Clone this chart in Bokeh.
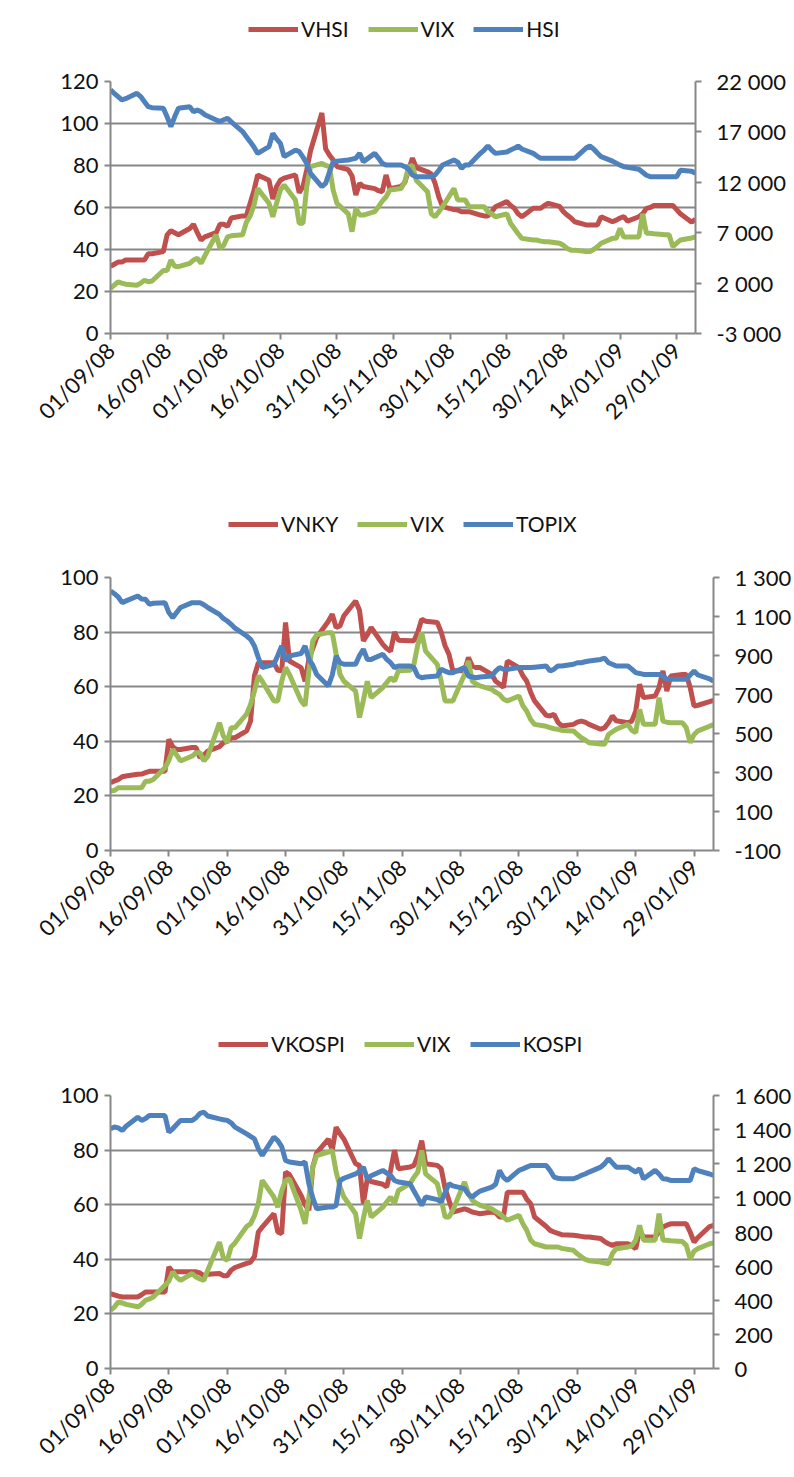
import pandas as pd
from bokeh.plotting import figure
from bokeh.models import Range1d, LinearAxis, FixedTicker, Legend, LegendItem, DatetimeTickFormatter
from bokeh.layouts import column
from bokeh.embed import file_html
from bokeh.resources import INLINE
import math

# ---------------- data ----------------
# trading days (weekdays) shown on the charts
dates = pd.bdate_range("2008-09-01", "2009-02-03")

tick_dates = ["2008-09-01", "2008-09-16", "2008-10-01", "2008-10-16", "2008-10-31",
              "2008-11-15", "2008-11-30", "2008-12-15", "2008-12-30", "2009-01-14", "2009-01-29"]
tick_labels = ["01/09/08", "16/09/08", "01/10/08", "16/10/08", "31/10/08",
               "15/11/08", "30/11/08", "15/12/08", "30/12/08", "14/01/09", "29/01/09"]

# Chart 1: VHSI, VIX (left axis), HSI (right axis)
vhsi = [32, 33, 34, 34, 35,
        35, 35, 35, 38, 38,
        39, 47, 49, 48, 47,
        50, 52, 48, 44.5, 46,
        48, 52, 52, 51, 55,
        56, 56, 62, 68, 75.5,
        73, 64, 70, 73, 74,
        75.5, 67, 70, 78, 87,
        105, 88, 85, 82.6, 79.5,
        78, 75, 66, 71.5, 70,
        69, 68, 67.5, 75.5, 69,
        70, 72, 78, 83.5, 79,
        77, 76, 71.5, 65, 60.4,
        59, 58.8, 58, 58, 58,
        56.4, 56, 56, 58, 60.4,
        62.8, 61, 59.6, 57, 55.6,
        59.6, 59.6, 59.6, 61, 62,
        60.5, 58, 56.4, 55, 53.2,
        51.7, 51.7, 51.7, 51.7, 55.6,
        53.2, 54, 55, 55.6, 53.5,
        55.6, 57, 59.6, 60, 61,
        61, 61, 61, 59, 57,
        53, 54.5]
vix_1 = [21.5, 23, 24.6, 24, 23.5,
         23, 24, 25.4, 24.6, 25,
         30, 30, 35, 32, 31.8,
         33.4, 35, 35.8, 33.4, 37,
         47, 40.5, 42, 46, 46.5,
         47, 53, 56, 61, 69,
         62, 55.6, 62, 68.3, 70.7,
         63.6, 52.5, 52.5, 70, 79.5,
         81, 80, 79.5, 68.3, 62,
         57, 48.5, 59.6, 56.4, 56.4,
         58, 60.4, 63, 65, 68.3,
         69, 72.3, 79.5, 80, 73,
         67.5, 57, 55.6, 58, 60.4,
         69, 63.6, 63.6, 63.6, 60.4,
         60.4, 60.4, 58, 57, 55.6,
         57, 52.5, 50, 47.5, 45.3,
         44.5, 44.5, 44, 43.7, 43.7,
         43, 42, 40.5, 39.7, 39.7,
         39, 39, 40, 41.3, 43,
         45.3, 45.3, 50, 46, 46,
         46, 57, 47.7, 47.7, 47.5,
         47, 47, 41.3, 43, 44.5,
         45.5, 46]
hsi = [21163, 20830, 20500, 20170, 20300,
       20830, 20500, 20000, 19500, 19400,
       19340, 18500, 17520, 18500, 19340,
       19500, 19000, 19180, 19000, 18700,
       18180, 18020, 18200, 18350, 18000,
       17030, 16530, 16030, 15500, 14870,
       15540, 16860, 16300, 15870, 14540,
       15200, 15040, 14500, 13880, 12890,
       11560, 11890, 13000, 14050, 14100,
       14210, 14300, 14380, 14870, 14050,
       14870, 14400, 13900, 13720, 13720,
       13720, 13550, 13300, 12720, 12560,
       12560, 12560, 12720, 13200, 13720,
       14210, 14000, 13380, 13720, 13720,
       14870, 15200, 15600, 15200, 14870,
       15000, 15200, 15370, 15600, 15300,
       14870, 14600, 14380, 14380, 14380,
       14380, 14380, 14380, 14380, 14380,
       15400, 15600, 15300, 14900, 14540,
       14100, 13900, 13700, 13550, 13500,
       13300, 13000, 12700, 12560, 12560,
       12560, 12560, 12560, 12560, 13200,
       13100, 12890]

# Chart 2: VNKY, VIX (left axis), TOPIX (right axis)
vnky = [24.8, 25.5, 26, 27, 27.3,
        27.9, 28, 28.5, 29, 29,
        29, 40.7, 38, 37, 37,
        37.7, 37.7, 34, 35, 36.4,
        38, 39.5, 40, 41.3, 41.3,
        43.8, 47.4, 64, 68.8, 68.8,
        68.8, 66, 65.8, 83.5, 69.4,
        67, 62, 70, 74, 78,
        84, 86.6, 81.7, 82.3, 86,
        91.4, 88, 76.8, 79, 81.7,
        75.5, 74, 73, 80, 77,
        76.8, 76.8, 80, 84.7, 84,
        83.5, 80, 75, 71.9, 65.8,
        65.8, 70.7, 67.6, 67, 67,
        64.5, 62, 61, 59.7, 69.4,
        67, 64, 62, 58, 54.8,
        49.5, 49.3, 49.9, 47, 45.6,
        46.2, 47, 47.4, 47, 46.2,
        44.4, 45, 46.8, 49.3, 47.5,
        46.8, 47.4, 51, 60.9, 56,
        56.6, 59.7, 65.8, 58.4, 63.9,
        64.5, 64.5, 59.7, 52.9, 53.2,
        54.5, 55]
vix_2 = [21.8, 22, 23, 23, 23,
         23, 23, 25.4, 25.4, 26,
         30.3, 33, 37, 35, 32.8,
         34.6, 35.8, 35.8, 32.8, 34.5,
         46.8, 42, 39.5, 45, 45,
         50, 53.5, 58.4, 64, 62,
         54.8, 54.8, 62, 67, 64.5,
         54.8, 53, 65.8, 76.8, 79,
         79.8, 79.8, 71.9, 64.5, 62,
         58.4, 48.7, 55, 62, 56,
         59.7, 61.5, 63.3, 62, 65.8,
         66, 68.2, 75.5, 79.8, 73,
         68.2, 62, 54.8, 54.8, 54.8,
         64.5, 69.4, 62, 61, 60.3,
         59, 58, 57.2, 55.5, 54.8,
         56.6, 53, 51, 48, 46.2,
         45.5, 45, 44.6, 44.4, 44,
         43.8, 42.5, 41.3, 40.5, 39.5,
         39, 38.9, 42.5, 43.5, 44.4,
         46.2, 44, 43.2, 51.7, 46.2,
         46.2, 56, 47.4, 47, 46.8,
         46.8, 45, 39.5, 42.5, 43.8,
         45.5, 46.2]
topix = [1231, 1217, 1200, 1171, 1180,
         1205, 1190, 1188, 1163, 1168,
         1171, 1120, 1094, 1120, 1146,
         1171, 1171, 1171, 1160, 1146,
         1111, 1090, 1077, 1060, 1040,
         1000, 983, 949, 889, 838,
         855, 900, 949, 872, 898,
         910, 949, 880, 850, 803,
         744, 800, 898, 863, 855,
         855, 900, 932, 880, 880,
         906, 880, 863, 838, 846,
         846, 838, 795, 786, 790,
         795, 829, 820, 812, 812,
         838, 795, 790, 786, 790,
         795, 820, 838, 829, 829,
         838, 838, 838, 838, 840,
         846, 820, 830, 846, 846,
         855, 863, 863, 868, 872,
         880, 886, 863, 855, 846,
         846, 830, 812, 808, 803,
         803, 803, 795, 778, 778,
         778, 778, 800, 820, 800,
         780, 769]

# Chart 3: VKOSPI, VIX (left axis), KOSPI (right axis)
vkospi = [27.4, 27, 26.5, 26.2, 26.2,
          26.2, 27, 28, 28, 28,
          28, 37.2, 35.4, 35.4, 35.4,
          35.4, 35.4, 35, 34, 34.5,
          34.8, 34, 34, 36, 37,
          38.5, 39, 41, 50, 51.8,
          56.7, 50, 49.4, 72, 71,
          63.4, 60, 58, 73.8, 79,
          84, 80, 88.4, 86, 84,
          75, 74.4, 60.4, 69.5, 68.5,
          67.5, 66.5, 72.6, 80, 73.2,
          73.8, 74.4, 78, 83.5, 75,
          74.4, 73.2, 66, 61.6, 57.3,
          58.5, 58, 57.3, 57, 56.7,
          57.3, 57, 55.5, 55.5, 64.6,
          64.6, 64.6, 62, 60.4, 55.5,
          52, 50.6, 50, 49.5, 49,
          48.8, 48.6, 48.4, 48.2, 48.2,
          47.6, 46.5, 45.7, 45.1, 45.7,
          45.7, 45, 43.9, 50.6, 48.2,
          48.2, 50, 51.8, 52.5, 53,
          53, 53, 50, 46.3, 48,
          52, 52.4]
vix_3 = [21.3, 22.5, 24.4, 24, 23.5,
         22.6, 23.5, 25, 25.5, 26.2,
         30.5, 32, 35.4, 33.5, 32.3,
         34.8, 33.5, 32.8, 32.3, 36,
         46.3, 40.5, 39.6, 44.5, 46,
         52, 53, 56, 60.4, 68.9,
         62.8, 59.1, 65, 68.9, 69.5,
         57.9, 53, 62.8, 73.8, 78,
         79.3, 79.9, 72, 66.5, 62.8,
         56.7, 47.6, 55, 61.6, 55.5,
         59.1, 61, 62.8, 60.4, 65.2,
         67.7, 70.1, 72, 79.9, 71.3,
         67.7, 62, 55.5, 55.5, 58,
         68.3, 64, 61.6, 60.5, 59.8,
         58.5, 57.5, 56.7, 55.5, 54.3,
         56.1, 53, 50.6, 47, 45.7,
         44.5, 44.5, 44.5, 44.5, 44,
         43.3, 42, 40.9, 40, 39.5,
         39, 38.6, 38.4, 42.1, 43.9,
         44.5, 45, 47, 52.4, 47,
         47, 56.7, 47, 47, 46.8,
         46.5, 45.1, 40.2, 43, 43.9,
         45.7, 46]
kospi = [1405, 1415, 1410, 1395, 1420,
         1473, 1454, 1465, 1483, 1483,
         1483, 1385, 1405, 1430, 1454,
         1454, 1470, 1495, 1502, 1480,
         1463, 1458, 1454, 1440, 1415,
         1375, 1360, 1346, 1288, 1249,
         1356, 1336, 1300, 1219, 1210,
         1200, 1210, 1083, 1000, 936,
         946, 946, 956, 1102, 1115,
         1141, 1155, 1180, 1112, 1130,
         1161, 1145, 1132, 1102, 1093,
         1083, 1040, 1000, 956, 1005,
         990, 976, 1030, 1083, 1070,
         1054, 1020, 1005, 1024, 1040,
         1063, 1080, 1161, 1120, 1102,
         1161, 1170, 1180, 1190, 1190,
         1190, 1160, 1122, 1115, 1112,
         1112, 1120, 1132, 1140, 1151,
         1180, 1200, 1229, 1205, 1180,
         1180, 1165, 1151, 1171, 1112,
         1161, 1140, 1112, 1110, 1102,
         1102, 1102, 1102, 1171, 1160,
         1140, 1132]

left_ticks_1 = [0, 20, 40, 60, 80, 100, 120]
left_ticks_23 = [0, 20, 40, 60, 80, 100]
right_ticks_1 = [-3000, 2000, 7000, 12000, 17000, 22000]
right_ticks_2 = [-100, 100, 300, 500, 700, 900, 1100, 1300]
right_ticks_3 = [0, 200, 400, 600, 800, 1000, 1200, 1400, 1600]

RED, GREEN, BLUE = "#C0504D", "#9BBB59", "#4F81BD"
GRID = "#878787"
FONT = "Lato"
FS = "22px"
TXT = "#111111"
LW = 5
PAGE_W = 786


def fmt_space(v):
    return f"{v:,}".replace(",", " ")


def make_legend(names, series, leg_x, h=56):
    # separate strip holding the legend; the series are drawn here only so that
    # the legend has real renderers (they lie outside this strip's ranges)
    lp = figure(frame_width=PAGE_W, frame_height=h, min_border=0,
                x_range=Range1d(0, 1), y_range=Range1d(0, 1),
                x_axis_location=None, y_axis_location=None,
                output_backend="svg", toolbar_location=None,
                background_fill_color="white", border_fill_color="white")
    lp.outline_line_color = None
    lp.grid.visible = False
    rs = [lp.line(dates, s, line_color=c, line_width=LW)
          for s, c in zip(series, (RED, GREEN, BLUE))]
    leg = Legend(items=[LegendItem(label=n, renderers=[r]) for n, r in zip(names, rs)],
                 location=(leg_x, 15), orientation="horizontal",
                 glyph_width=50, glyph_height=24, label_standoff=3, spacing=19,
                 padding=0, margin=0, border_line_color=None,
                 background_fill_alpha=0,
                 label_text_font=FONT, label_text_font_size="21px", label_text_color=TXT)
    lp.add_layout(leg)
    return lp


def make_chart(left_vals, right_vals, left_ticks, right_ticks,
               fw, fh, top, left, bottom):
    p = figure(x_axis_type="datetime", frame_width=fw, frame_height=fh,
               min_border_top=top, min_border_left=left,
               min_border_right=PAGE_W - left - fw, min_border_bottom=bottom,
               x_range=Range1d(pd.Timestamp("2008-09-01"), pd.Timestamp("2009-02-03")),
               y_range=Range1d(left_ticks[0], left_ticks[-1]),
               output_backend="svg", toolbar_location=None,
               background_fill_color="white", border_fill_color="white")
    p.outline_line_color = None
    p.extra_y_ranges = {"right": Range1d(right_ticks[0], right_ticks[-1])}

    lt = FixedTicker(ticks=left_ticks)
    p.yaxis.ticker = lt
    p.ygrid.ticker = lt
    p.ygrid.grid_line_color = GRID
    p.ygrid.grid_line_width = 2
    p.xgrid.visible = False

    xt = FixedTicker(ticks=[int(pd.Timestamp(d).value // 10**6) for d in tick_dates])
    p.xaxis.ticker = xt
    p.xaxis.formatter = DatetimeTickFormatter(days="%d/%m/%y", months="%d/%m/%y",
                                              years="%d/%m/%y")
    p.xaxis.major_label_overrides = {int(pd.Timestamp(d).value // 10**6): lab
                                     for d, lab in zip(tick_dates, tick_labels)}
    p.xaxis.major_label_orientation = math.pi / 4

    rax = LinearAxis(y_range_name="right", ticker=FixedTicker(ticks=right_ticks))
    rax.major_label_overrides = {v: fmt_space(v) for v in right_ticks}
    p.add_layout(rax, "right")

    for ax in [p.xaxis[0], p.yaxis[0], rax]:
        ax.axis_line_color = GRID
        ax.axis_line_width = 2
        ax.major_tick_line_color = GRID
        ax.major_tick_line_width = 2
        ax.major_tick_out = 6
        ax.major_tick_in = 0
        ax.minor_tick_line_color = None
        ax.major_label_text_font = FONT
        ax.major_label_text_font_size = FS
        ax.major_label_text_color = TXT
    p.yaxis[0].major_label_standoff = 6
    rax.major_label_standoff = 15
    p.xaxis[0].major_label_standoff = 7

    p.line(dates, left_vals[0], line_color=RED, line_width=LW)
    p.line(dates, left_vals[1], line_color=GREEN, line_width=LW)
    p.line(dates, right_vals, line_color=BLUE, line_width=LW, y_range_name="right")
    return p


l1 = make_legend(["VHSI", "VIX", "HSI"], [vhsi, vix_1, hsi], 248)
p1 = make_chart([vhsi, vix_1], hsi, left_ticks_1, right_ticks_1, 585, 252, 25, 108, 162)
l2 = make_legend(["VNKY", "VIX", "TOPIX"], [vnky, vix_2, topix], 228)
p2 = make_chart([vnky, vix_2], topix, left_ticks_23, right_ticks_2, 603, 273, 26, 110, 165)
l3 = make_legend(["VKOSPI", "VIX", "KOSPI"], [vkospi, vix_3, kospi], 218)
p3 = make_chart([vkospi, vix_3], kospi, left_ticks_23, right_ticks_3, 603, 273, 24, 107, 100)

page = column(l1, p1, l2, p2, l3, p3, spacing=0)
open("out.html", "w").write(file_html(page, INLINE))
